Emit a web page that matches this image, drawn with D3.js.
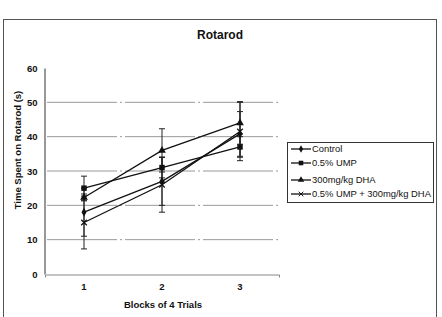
<!DOCTYPE html>
<html lang="en">
<head>
  <meta charset="UTF-8">
  <title>Rotarod</title>
  <script src="https://cdn.jsdelivr.net/npm/d3@7"></script>
  <style>
    body { margin: 0; background: #fff; }
    text { font-family: Arial, "Liberation Sans", sans-serif; fill: #111; }
  </style>
</head>
<body>
<svg></svg>
<script>
  const width = 442, height = 317

  // data
  const blocks = ['1', '2', '3']
  const seriesNames = ['Control', '0.5% UMP', '300mg/kg DHA', '0.5% UMP + 300mg/kg DHA']
  const control = [18, 27, 40.8]
  const ump = [25, 31, 37]
  const dha = [22.3, 36, 44]
  const combo = [15, 26, 41.5]
  const controlErr = [7, 7, 6.5]
  const umpErr = [3.5, 3, 3]
  const dhaErr = [1, 6.3, 6.2]
  const comboErr = [7.7, 8, 8.5]
  const yTicks = [0, 10, 20, 30, 40, 50, 60]

  const series = [
    {name: seriesNames[0], values: control, err: controlErr, symbol: d3.symbolDiamond, size: 22},
    {name: seriesNames[1], values: ump, err: umpErr, symbol: d3.symbolSquare, size: 30},
    {name: seriesNames[2], values: dha, err: dhaErr, symbol: d3.symbolTriangle, size: 26},
    {name: seriesNames[3], values: combo, err: comboErr, symbol: d3.symbolX, size: 22}
  ]

  const svg = d3.select('svg')
      .attr('width', width)
      .attr('height', height)

  // outer frame
  svg.append('rect')
      .attr('x', 3.5).attr('y', 19.5)
      .attr('width', 433).attr('height', 310)
      .attr('fill', 'none')
      .attr('stroke', '#555')

  const x = d3.scaleBand()
      .domain(blocks)
      .range([45, 279])

  const y = d3.scaleLinear()
      .domain([0, 60])
      .range([274, 68])

  // gridlines
  svg.append('g')
      .selectAll('line')
      .data(yTicks.filter(d => d > 0 && d < 60))
      .join('line')
      .attr('x1', 47).attr('x2', 278)
      .attr('y1', d => y(d)).attr('y2', d => y(d))
      .attr('stroke', '#999')
      .attr('stroke-width', 1)
      .attr('stroke-dasharray', '70,3,2,3')

  // y axis
  const yAxis = svg.append('g')
      .attr('transform', 'translate(44.5,0)')
      .call(d3.axisLeft(y).tickValues(yTicks).tickSize(0).tickPadding(7))
  yAxis.select('.domain').attr('stroke', '#333')
  yAxis.selectAll('text').attr('font-size', 9.5).attr('font-weight', 'bold').attr('fill', '#222')

  // x axis
  const xAxis = svg.append('g')
      .attr('transform', 'translate(0,274.5)')
      .call(d3.axisBottom(x).tickSize(0).tickPadding(9).tickSizeOuter(3))
  xAxis.select('.domain').attr('stroke', '#888')
  xAxis.selectAll('text').attr('font-size', 9.5).attr('font-weight', 'bold').attr('fill', '#222')

  const cx = d => x(d) + x.bandwidth() / 2

  // error bars
  series.forEach(s => {
    const g = svg.append('g')
    g.selectAll('line.bar')
        .data(blocks)
        .join('line')
        .attr('x1', d => cx(d)).attr('x2', d => cx(d))
        .attr('y1', (d, i) => y(s.values[i] + s.err[i]))
        .attr('y2', (d, i) => y(s.values[i] - s.err[i]))
        .attr('stroke', '#222')
    ;[1, -1].forEach(sign => {
      g.selectAll('line.cap' + sign)
          .data(blocks)
          .join('line')
          .attr('x1', d => cx(d) - 3).attr('x2', d => cx(d) + 3)
          .attr('y1', (d, i) => y(s.values[i] + sign * s.err[i]))
          .attr('y2', (d, i) => y(s.values[i] + sign * s.err[i]))
          .attr('stroke', '#222')
    })
  })

  // lines and markers
  const line = d3.line()
      .x((d, i) => cx(blocks[i]))
      .y(d => y(d))

  series.forEach(s => {
    svg.append('path')
        .attr('d', line(s.values))
        .attr('fill', 'none')
        .attr('stroke', '#111')
        .attr('stroke-width', 1.3)
    svg.append('g')
        .selectAll('path')
        .data(s.values)
        .join('path')
        .attr('transform', (d, i) => `translate(${cx(blocks[i])},${y(d)})`)
        .attr('d', d3.symbol(s.symbol, s.size))
        .attr('fill', '#111')
        .attr('stroke', '#111')
        .attr('stroke-width', s.symbol === d3.symbolX ? 1.2 : 0)
  })

  // title and axis titles
  svg.append('text')
      .attr('x', 220).attr('y', 39)
      .attr('text-anchor', 'middle')
      .attr('font-size', 12)
      .attr('font-weight', 'bold')
      .text('Rotarod')

  svg.append('text')
      .attr('x', 163).attr('y', 308)
      .attr('text-anchor', 'middle')
      .attr('font-size', 9.5)
      .attr('font-weight', 'bold')
      .text('Blocks of 4 Trials')

  svg.append('text')
      .attr('transform', 'translate(21,150) rotate(-90)')
      .attr('text-anchor', 'middle')
      .attr('font-size', 9.5)
      .attr('font-weight', 'bold')
      .text('Time Spent on Rotarod (s)')

  // legend
  const legend = svg.append('g').attr('transform', 'translate(287,142)')
  legend.append('rect')
      .attr('x', 0.5).attr('y', 0.5)
      .attr('width', 146).attr('height', 60)
      .attr('fill', '#fff')
      .attr('stroke', '#333')

  const item = legend.selectAll('g.item')
      .data(series)
      .join('g')
      .attr('transform', (d, i) => `translate(0,${[7, 21, 38, 52][i]})`)
  item.append('line')
      .attr('x1', 4).attr('x2', 24)
      .attr('stroke', '#111')
      .attr('stroke-width', 1.3)
  item.append('path')
      .attr('transform', 'translate(14,0)')
      .attr('d', d => d3.symbol(d.symbol, d.size * 0.7)())
      .attr('fill', '#111')
      .attr('stroke', '#111')
      .attr('stroke-width', d => d.symbol === d3.symbolX ? 1 : 0)
  item.append('text')
      .attr('x', 25).attr('dy', '0.35em')
      .attr('font-size', 9.4)
      .text(d => d.name)
</script>
</body>
</html>
